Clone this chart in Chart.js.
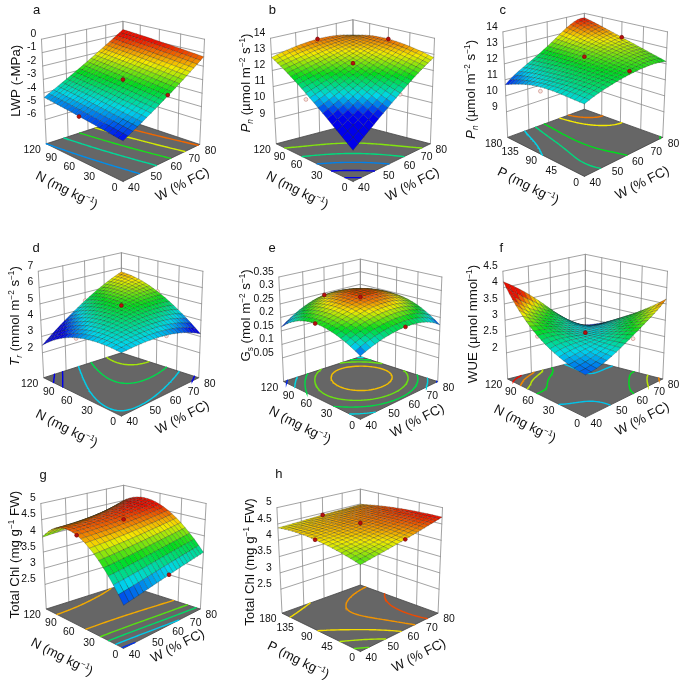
<!DOCTYPE html>
<html>
<head>
<meta charset="utf-8">
<title>Response surfaces</title>
<script src="https://cdn.jsdelivr.net/npm/chart.js@4"></script>
<style>
html, body { margin: 0; padding: 0; background: #fff; width: 685px; height: 686px; overflow: hidden; }
#page { position: relative; width: 685px; height: 686px; }
canvas { position: absolute; }
</style>
</head>
<body>
<div id="page"></div>
<script>
// factor levels
const wLevels = [40, 50, 60, 70, 80];
const nLevels = [0, 30, 60, 90, 120];
const pLevels = [0, 45, 90, 135, 180];

// response: one row per W level, one column per N or P level
const lwpValues = [
    [-5.00, -4.80, -4.62, -4.47, -4.34],
    [-4.08, -3.88, -3.70, -3.55, -3.42],
    [-3.16, -2.96, -2.78, -2.63, -2.50],
    [-2.23, -2.03, -1.85, -1.70, -1.57],
    [-1.30, -1.10, -0.92, -0.77, -0.66]
];
const pnNValues = [
    [9.33, 10.52, 11.50, 12.26, 12.81],
    [10.52, 11.30, 11.99, 12.60, 13.15],
    [11.50, 11.99, 12.45, 12.88, 13.29],
    [12.26, 12.61, 12.89, 13.10, 13.25],
    [12.80, 13.15, 13.30, 13.25, 13.00]
];
const pnPValues = [
    [11.50, 11.52, 11.45, 11.16, 10.70],
    [11.95, 11.98, 11.90, 11.78, 11.60],
    [12.20, 12.30, 12.40, 12.42, 12.40],
    [12.30, 12.58, 12.80, 13.05, 13.30],
    [12.15, 12.57, 12.98, 13.37, 13.70]
];
const trValues = [
    [4.08, 4.10, 3.84, 3.29, 2.45],
    [4.12, 4.44, 4.44, 4.14, 3.57],
    [3.99, 4.57, 4.84, 4.81, 4.49],
    [3.67, 4.52, 5.05, 5.29, 5.22],
    [3.17, 4.27, 5.07, 5.56, 5.75]
];
const gsValues = [
    [0.179, 0.218, 0.229, 0.211, 0.164],
    [0.208, 0.245, 0.258, 0.250, 0.218],
    [0.217, 0.258, 0.276, 0.271, 0.243],
    [0.207, 0.252, 0.273, 0.268, 0.236],
    [0.172, 0.225, 0.245, 0.234, 0.190]
];
const wueValues = [
    [2.45, 2.62, 2.97, 3.49, 4.18],
    [2.64, 2.72, 2.85, 3.05, 3.62],
    [2.98, 2.78, 2.68, 2.78, 3.02],
    [3.30, 2.95, 2.68, 2.52, 2.50],
    [3.65, 3.12, 2.74, 2.46, 2.28]
];
const chlNValues = [
    [2.98, 3.96, 4.45, 4.45, 3.96],
    [3.13, 4.02, 4.47, 4.47, 4.04],
    [3.27, 4.09, 4.51, 4.53, 4.15],
    [3.39, 4.16, 4.57, 4.62, 4.31],
    [3.49, 4.23, 4.65, 4.74, 4.50]
];
const chlPValues = [
    [4.17, 4.33, 4.42, 4.44, 4.38],
    [4.30, 4.41, 4.47, 4.47, 4.41],
    [4.43, 4.50, 4.53, 4.51, 4.44],
    [4.57, 4.60, 4.59, 4.55, 4.46],
    [4.71, 4.70, 4.66, 4.59, 4.48]
];

// response axis tick labels
const lwpTicks = [0, -1, -2, -3, -4, -5, -6];
const pnTicks = [14, 13, 12, 11, 10, 9];
const trTicks = [7, 6, 5, 4, 3, 2];
const gsTicks = [0.35, 0.3, 0.25, 0.2, 0.15, 0.1, 0.05];
const wueTicks = [4.5, 4, 3.5, 3, 2.5, 2];
const chlTicks = [5, 4.5, 4, 3.5, 3, 2.5];

// contour levels on the floor of each plot
const lwpContours = [-4.34, -3.6, -2.9, -2.15, -1.4];
const pnNContours = [12.5, 11.75, 11.05, 10.35, 9.7];
const pnPContours = [11.45, 11.85, 12.2, 12.95, 13.35];
const trContours = [3.0, 3.4, 4.15, 4.7, 5.3];
const gsContours = [0.262, 0.24, 0.222, 0.2, 0.175];
const wueContours = [2.63, 3.02, 3.3, 3.55, 3.88];
const chlNContours = [4.35, 3.95, 3.65, 3.35, 3.05];
const chlPContours = [4.22, 4.32, 4.42, 4.52, 4.62];

// design points: [W, N or P, response, shown above the surface]
const lwpPoints = [[60, 60, -3.0, 1], [40, 60, -4.64, 1], [60, 0, -3.09, 1]];
const pnNPoints = [[60, 120, 13.3, 1], [80, 60, 13.3, 1], [60, 60, 12.45, 1], [40, 60, 11.12, 0], [60, 0, 11.43, 0]];
const pnPPoints = [[60, 90, 12.45, 1], [80, 90, 12.98, 1], [60, 0, 12.4, 1], [40, 90, 11.2, 0]];
const trPoints = [[60, 60, 4.9, 1], [40, 60, 3.8, 0], [60, 0, 3.95, 0], [60, 120, 4.49, 0], [80, 60, 5.07, 0]];
const gsPoints = [[60, 60, 0.276, 1], [60, 120, 0.243, 1], [40, 60, 0.229, 1], [60, 0, 0.217, 1]];
const wuePoints = [[60, 60, 2.62, 1], [40, 60, 2.95, 0], [60, 0, 2.88, 0]];
const chlNPoints = [[60, 60, 4.51, 1], [40, 60, 4.45, 1], [60, 0, 3.27, 1]];
const chlPPoints = [[60, 90, 4.53, 1], [40, 90, 4.42, 1], [60, 0, 4.43, 1], [60, 180, 4.44, 1]];

// panel setup. box coordinates are in 1/3 px, so the scales run 0..690 over 230 px
const panels = [
    { letter: 'a', at: [0, 0], letterAt: [100, 18], values: lwpValues, levels: nLevels, contours: lwpContours, points: lwpPoints,
      zRange: [-7.8, 0], zTicks: lwpTicks, color: [-5, -1],
      F: [370, 553], L: [130, 435], R: [610, 437], B: [370, 357], LT: [115, 108], BT: [370, 52], RT: [625, 108],
      zTitle: [{ t: 'LWP (-MPa)' }], zAt: [33, 238], xName: 'N', nAt: [195, 578], wAt: [555, 560] },
    { letter: 'b', at: [230, 0], letterAt: [118, 18], values: pnNValues, levels: nLevels, contours: pnNContours, points: pnNPoints,
      zRange: [7.45, 14], zTicks: pnTicks, color: [10.6, 13.6],
      F: [370, 553], L: [130, 435], R: [612, 435], B: [370, 372], LT: [112, 105], BT: [370, 47], RT: [625, 105],
      zTitle: 'pn', zAt: [33, 245], xName: 'N', nAt: [197, 578], wAt: [555, 560] },
    { letter: 'c', at: [455, 0], letterAt: [135, 18], values: pnPValues, levels: pLevels, contours: pnPContours, points: pnPPoints,
      zRange: [7.4, 14], zTicks: pnTicks, color: [10.7, 13.7],
      F: [390, 537], L: [150, 415], R: [635, 415], B: [390, 327], LT: [135, 85], BT: [390, 27], RT: [650, 85],
      zTitle: 'pn', zAt: [33, 265], xName: 'P', nAt: [215, 565], wAt: [570, 555] },
    { letter: 'd', at: [0, 225], letterAt: [98, 58], values: trValues, levels: nLevels, contours: trContours, points: trPoints,
      zRange: [0.47, 7], zTicks: trTicks, color: [3.5, 6.2],
      F: [365, 583], L: [122, 463], R: [607, 463], B: [365, 385], LT: [105, 130], BT: [365, 72], RT: [620, 130],
      zTitle: [{ t: 'T', i: 1 }, { t: 'r', i: 1, sub: 1 }, { t: ' (mmol m' }, { t: '−2', sup: 1 }, { t: ' s' }, { t: '−1', sup: 1 }, { t: ')' }],
      zAt: [30, 270], xName: 'N', nAt: [195, 620], wAt: [555, 585] },
    { letter: 'e', at: [230, 225], letterAt: [117, 58], values: gsValues, levels: nLevels, contours: gsContours, points: gsPoints,
      zRange: [-0.038, 0.35], zTicks: gsTicks, color: [0.17, 0.285],
      F: [393, 593], L: [153, 475], R: [635, 475], B: [393, 397], LT: [138, 148], BT: [393, 92], RT: [648, 148],
      zTitle: [{ t: 'G' }, { t: 's', sub: 1 }, { t: ' (mol m' }, { t: '−2', sup: 1 }, { t: ' s' }, { t: '−1', sup: 1 }, { t: ')' }],
      zAt: [33, 268], xName: 'N', nAt: [205, 610], wAt: [570, 595] },
    { letter: 'f', at: [455, 225], letterAt: [130, 58], values: wueValues, levels: nLevels, contours: wueContours, points: wuePoints,
      zRange: [1.2, 4.5], zTicks: wueTicks, color: [2.3, 3.75],
      F: [393, 587], L: [150, 467], R: [635, 467], B: [393, 405], LT: [135, 130], BT: [393, 77], RT: [650, 130],
      zTitle: [{ t: 'WUE (µmol mmol' }, { t: '−1', sup: 1 }, { t: ')' }], zAt: [38, 295], xName: 'N', nAt: [205, 605], wAt: [570, 590] },
    { letter: 'g', at: [0, 455], letterAt: [120, 50], values: chlNValues, levels: nLevels, contours: chlNContours, points: chlNPoints,
      zRange: [1.74, 5], zTicks: chlTicks, color: [2.95, 4.65],
      F: [372, 590], L: [130, 467], R: [612, 467], B: [372, 390], LT: [113, 137], BT: [372, 80], RT: [630, 137],
      zTitle: 'chl', zAt: [30, 297], xName: 'N', nAt: [180, 615], wAt: [540, 580] },
    { letter: 'h', at: [230, 455], letterAt: [138, 45], values: chlPValues, levels: pLevels, contours: chlPContours, points: chlPPoints,
      zRange: [1.765, 5], zTicks: chlTicks, color: [3.5, 4.7],
      F: [393, 600], L: [148, 480], R: [636, 480], B: [393, 392], LT: [132, 150], BT: [393, 92], RT: [650, 150],
      zTitle: 'chl', zAt: [45, 320], xName: 'P', nAt: [200, 625], wAt: [575, 610] }
];

const pnTitle = [{ t: 'P', i: 1 }, { t: 'n', i: 1, sub: 1 }, { t: ' (µmol m' }, { t: '−2', sup: 1 }, { t: ' s' }, { t: '−1', sup: 1 }, { t: ')' }];
const chlTitle = [{ t: 'Total Chl (mg g' }, { t: '−1', sup: 1 }, { t: ' FW)' }];

const MESH = 20;
const FONT = '"Liberation Sans", Arial, sans-serif';
const rampStops = [[0, 0, 235], [0, 215, 235], [0, 220, 30], [245, 235, 0], [235, 15, 0]];

function rampColor(t) {
    t = Math.max(0, Math.min(1, t)) * 4;
    const i = Math.min(3, Math.floor(t));
    const f = t - i;
    const a = rampStops[i], b = rampStops[i + 1];
    return 'rgb(' + Math.round(a[0] + (b[0] - a[0]) * f) + ',' + Math.round(a[1] + (b[1] - a[1]) * f) + ',' + Math.round(a[2] + (b[2] - a[2]) * f) + ')';
}

// square to quad mapping for the perspective of floor and ceiling
function quadMap(p0, p1, p2, p3) {
    const sx = p0[0] - p1[0] + p2[0] - p3[0], sy = p0[1] - p1[1] + p2[1] - p3[1];
    const dx1 = p1[0] - p2[0], dx2 = p3[0] - p2[0], dy1 = p1[1] - p2[1], dy2 = p3[1] - p2[1];
    const den = dx1 * dy2 - dx2 * dy1;
    const g = (sx * dy2 - dx2 * sy) / den, h = (dx1 * sy - sx * dy1) / den;
    const a = p1[0] - p0[0] + g * p1[0], b = p3[0] - p0[0] + h * p3[0];
    const d = p1[1] - p0[1] + g * p1[1], e = p3[1] - p0[1] + h * p3[1];
    return function (u, v) {
        const w = g * u + h * v + 1;
        return [(a * u + b * v + p0[0]) / w, (d * u + e * v + p0[1]) / w];
    };
}

// smooth value between the five read levels, u and v in 0..1
function lagrange(row, t) {
    let sum = 0;
    for (let i = 0; i < 5; i++) {
        let w = 1;
        for (let k = 0; k < 5; k++) {
            if (k !== i) w *= (t * 4 - k) / (i - k);
        }
        sum += w * row[i];
    }
    return sum;
}
function surfaceAt(values, u, v) {
    return lagrange(values.map(function (row) { return lagrange(row, v); }), u);
}

function line(points, color, width, extra) {
    return Object.assign({
        data: points, showLine: true, borderColor: color, borderWidth: width,
        pointRadius: 0, fill: false, tension: 0, clip: false, borderCapStyle: 'round'
    }, extra || {});
}

function contourData(p, project) {
    const n = 48, sets = [];
    const grid = [];
    for (let i = 0; i <= n; i++) {
        grid.push([]);
        for (let j = 0; j <= n; j++) grid[i].push(surfaceAt(p.values, i / n, j / n));
    }
    p.contours.forEach(function (level) {
        const pts = [];
        for (let i = 0; i < n; i++) {
            for (let j = 0; j < n; j++) {
                const corners = [[i, j], [i + 1, j], [i + 1, j + 1], [i, j + 1]];
                const hits = [];
                for (let k = 0; k < 4; k++) {
                    const a = corners[k], b = corners[(k + 1) % 4];
                    const za = grid[a[0]][a[1]], zb = grid[b[0]][b[1]];
                    if ((za < level) !== (zb < level)) {
                        const f = (level - za) / (zb - za);
                        hits.push(project((a[0] + (b[0] - a[0]) * f) / n, (a[1] + (b[1] - a[1]) * f) / n, p.zRange[0]));
                    }
                }
                if (hits.length >= 2) {
                    pts.push({ x: hits[0][0], y: hits[0][1] }, { x: hits[1][0], y: hits[1][1] }, { x: NaN, y: NaN });
                }
            }
        }
        const c = (level - p.color[0]) / (p.color[1] - p.color[0]);
        sets.push(line(pts, rampColor(c), 1.4));
    });
    return sets;
}

function buildDatasets(p) {
    const floorMap = quadMap(p.F, p.R, p.B, p.L);
    const h = 2 * (p.L[1] - p.LT[1]) - (p.B[1] - p.BT[1]) + 5;
    const topMap = quadMap([p.F[0], p.F[1] - h], p.RT, p.BT, p.LT);
    const span = p.zRange[1] - p.zRange[0];
    function project(u, v, z) {
        const t = (z - p.zRange[0]) / span;
        const a = floorMap(u, v), b = topMap(u, v);
        return [a[0] + (b[0] - a[0]) * t, a[1] + (b[1] - a[1]) * t];
    }
    const xy = function (q) { return { x: q[0], y: q[1] }; };
    const sets = [];
    const wall = '#8c8c8c';
    const zTop = p.zRange[1], zBot = p.zRange[0];

    // walls: left wall at the highest N or P, right wall at the highest W
    p.levels.forEach(function (lv, k) {
        const v = k / 4;
        sets.push(line([project(1, v, zBot), project(1, v, zTop)].map(xy), wall, 0.8));
    });
    wLevels.forEach(function (lv, k) {
        const u = k / 4;
        sets.push(line([project(u, 1, zBot), project(u, 1, zTop)].map(xy), wall, 0.8));
    });
    p.zTicks.forEach(function (z) {
        sets.push(line([project(0, 1, z), project(1, 1, z), project(1, 0, z)].map(xy), wall, 0.8));
    });

    // floor
    sets.push(line([p.F, p.R, p.B, p.L, p.F].map(xy), '#444', 0.8, { fill: 'shape', backgroundColor: '#666666' }));
    contourData(p, project).forEach(function (s) { sets.push(s); });

    function pointSet(kept) {
        const pts = p.points.filter(function (q) { return q[3] === kept; }).map(function (q) {
            const u = (q[0] - wLevels[0]) / (wLevels[4] - wLevels[0]);
            const v = (q[1] - p.levels[0]) / (p.levels[4] - p.levels[0]);
            return xy(project(u, v, q[2]));
        });
        return {
            data: pts, showLine: false, clip: false, pointRadius: 1.9, pointBorderWidth: 0.7,
            pointBackgroundColor: kept ? '#b80f0f' : '#f4e6e2',
            pointBorderColor: kept ? '#7a0808' : '#cf8f86'
        };
    }
    sets.push(pointSet(0));

    // surface, painted from the back corner to the front corner
    const vals = [];
    for (let i = 0; i <= MESH; i++) {
        vals.push([]);
        for (let j = 0; j <= MESH; j++) vals[i].push(surfaceAt(p.values, i / MESH, j / MESH));
    }
    for (let i = MESH - 1; i >= 0; i--) {
        for (let j = MESH - 1; j >= 0; j--) {
            const z = (vals[i][j] + vals[i + 1][j] + vals[i + 1][j + 1] + vals[i][j + 1]) / 4;
            const c = rampColor((z - p.color[0]) / (p.color[1] - p.color[0]));
            const quad = [
                project(i / MESH, j / MESH, vals[i][j]),
                project((i + 1) / MESH, j / MESH, vals[i + 1][j]),
                project((i + 1) / MESH, (j + 1) / MESH, vals[i + 1][j + 1]),
                project(i / MESH, (j + 1) / MESH, vals[i][j + 1])
            ];
            quad.push(quad[0]);
            sets.push(line(quad.map(xy), 'rgba(20,30,20,0.46)', 0.5, { fill: 'shape', backgroundColor: c, borderJoinStyle: 'bevel' }));
        }
    }
    sets.push(pointSet(1));

    // chart.js paints the first dataset on top
    sets.reverse();
    return { sets: sets, project: project };
}

function drawRuns(ctx, runs, size) {
    // runs are drawn centred on the origin
    const small = size * 0.62;
    let total = 0;
    const fontFor = function (r) {
        return (r.i ? 'italic ' : '') + ((r.sup || r.sub) ? small : size) + 'px ' + FONT;
    };
    runs.forEach(function (r) { ctx.font = fontFor(r); total += ctx.measureText(r.t).width; });
    let x = -total / 2;
    ctx.textAlign = 'left';
    ctx.textBaseline = 'alphabetic';
    runs.forEach(function (r) {
        ctx.font = fontFor(r);
        const dy = r.sup ? -size * 0.36 : (r.sub ? size * 0.2 : 0);
        ctx.fillText(r.t, x, size * 0.36 + dy);
        x += ctx.measureText(r.t).width;
    });
}

function textPlugin(p, project) {
    return {
        id: 'axisText',
        afterDraw: function (chart) {
            const ctx = chart.ctx, sx = chart.scales.x, sy = chart.scales.y;
            const px = function (x) { return sx.getPixelForValue(x); };
            const py = function (y) { return sy.getPixelForValue(y); };
            ctx.save();
            ctx.fillStyle = '#111';

            ctx.font = '10.4px ' + FONT;
            ctx.textBaseline = 'middle';
            ctx.textAlign = 'right';
            p.levels.forEach(function (lv, k) {
                const q = project(0, k / 4, p.zRange[0]);
                ctx.fillText(String(lv), px(q[0] - 17), py(q[1] + 20));
            });
            ctx.textAlign = 'left';
            wLevels.forEach(function (lv, k) {
                const q = project(k / 4, 0, p.zRange[0]);
                ctx.fillText(String(lv), px(q[0] + 16), py(q[1] + 20));
            });
            ctx.textAlign = 'right';
            p.zTicks.forEach(function (z) {
                const q = project(0, 1, z);
                ctx.fillText(String(z), px(p.LT[0] - 16), py(q[1] - 16));
            });

            ctx.textAlign = 'center';
            ctx.font = '13px ' + FONT;
            ctx.fillText(p.letter, px(p.letterAt[0]), py(p.letterAt[1]));

            const zRuns = p.zTitle === 'pn' ? pnTitle : (p.zTitle === 'chl' ? chlTitle : p.zTitle);
            const titles = [
                [zRuns, p.zAt, -Math.PI / 2],
                [[{ t: p.xName + ' (mg kg' }, { t: '−1', sup: 1 }, { t: ')' }], p.nAt, 27 * Math.PI / 180],
                [[{ t: 'W (% FC)' }], p.wAt, -27 * Math.PI / 180]
            ];
            titles.forEach(function (t) {
                ctx.save();
                ctx.translate(px(t[1][0]), py(t[1][1]));
                ctx.rotate(t[2]);
                drawRuns(ctx, t[0], 13.3);
                ctx.restore();
            });
            ctx.restore();
        }
    };
}

const page = document.getElementById('page');
panels.forEach(function (p) {
    const canvas = document.createElement('canvas');
    canvas.width = 230;
    canvas.height = 230;
    canvas.style.left = p.at[0] + 'px';
    canvas.style.top = p.at[1] + 'px';
    canvas.style.width = '230px';
    canvas.style.height = '230px';
    page.appendChild(canvas);
    const built = buildDatasets(p);
    new Chart(canvas.getContext('2d'), {
        type: 'scatter',
        data: { datasets: built.sets },
        options: {
            responsive: false,
            animation: false,
            events: [],
            layout: { padding: 0 },
            plugins: { legend: { display: false }, tooltip: { enabled: false } },
            scales: {
                x: { type: 'linear', display: false, min: 0, max: 690 },
                y: { type: 'linear', display: false, min: 0, max: 690, reverse: true }
            }
        },
        plugins: [textPlugin(p, built.project)]
    });
});
</script>
</body>
</html>
